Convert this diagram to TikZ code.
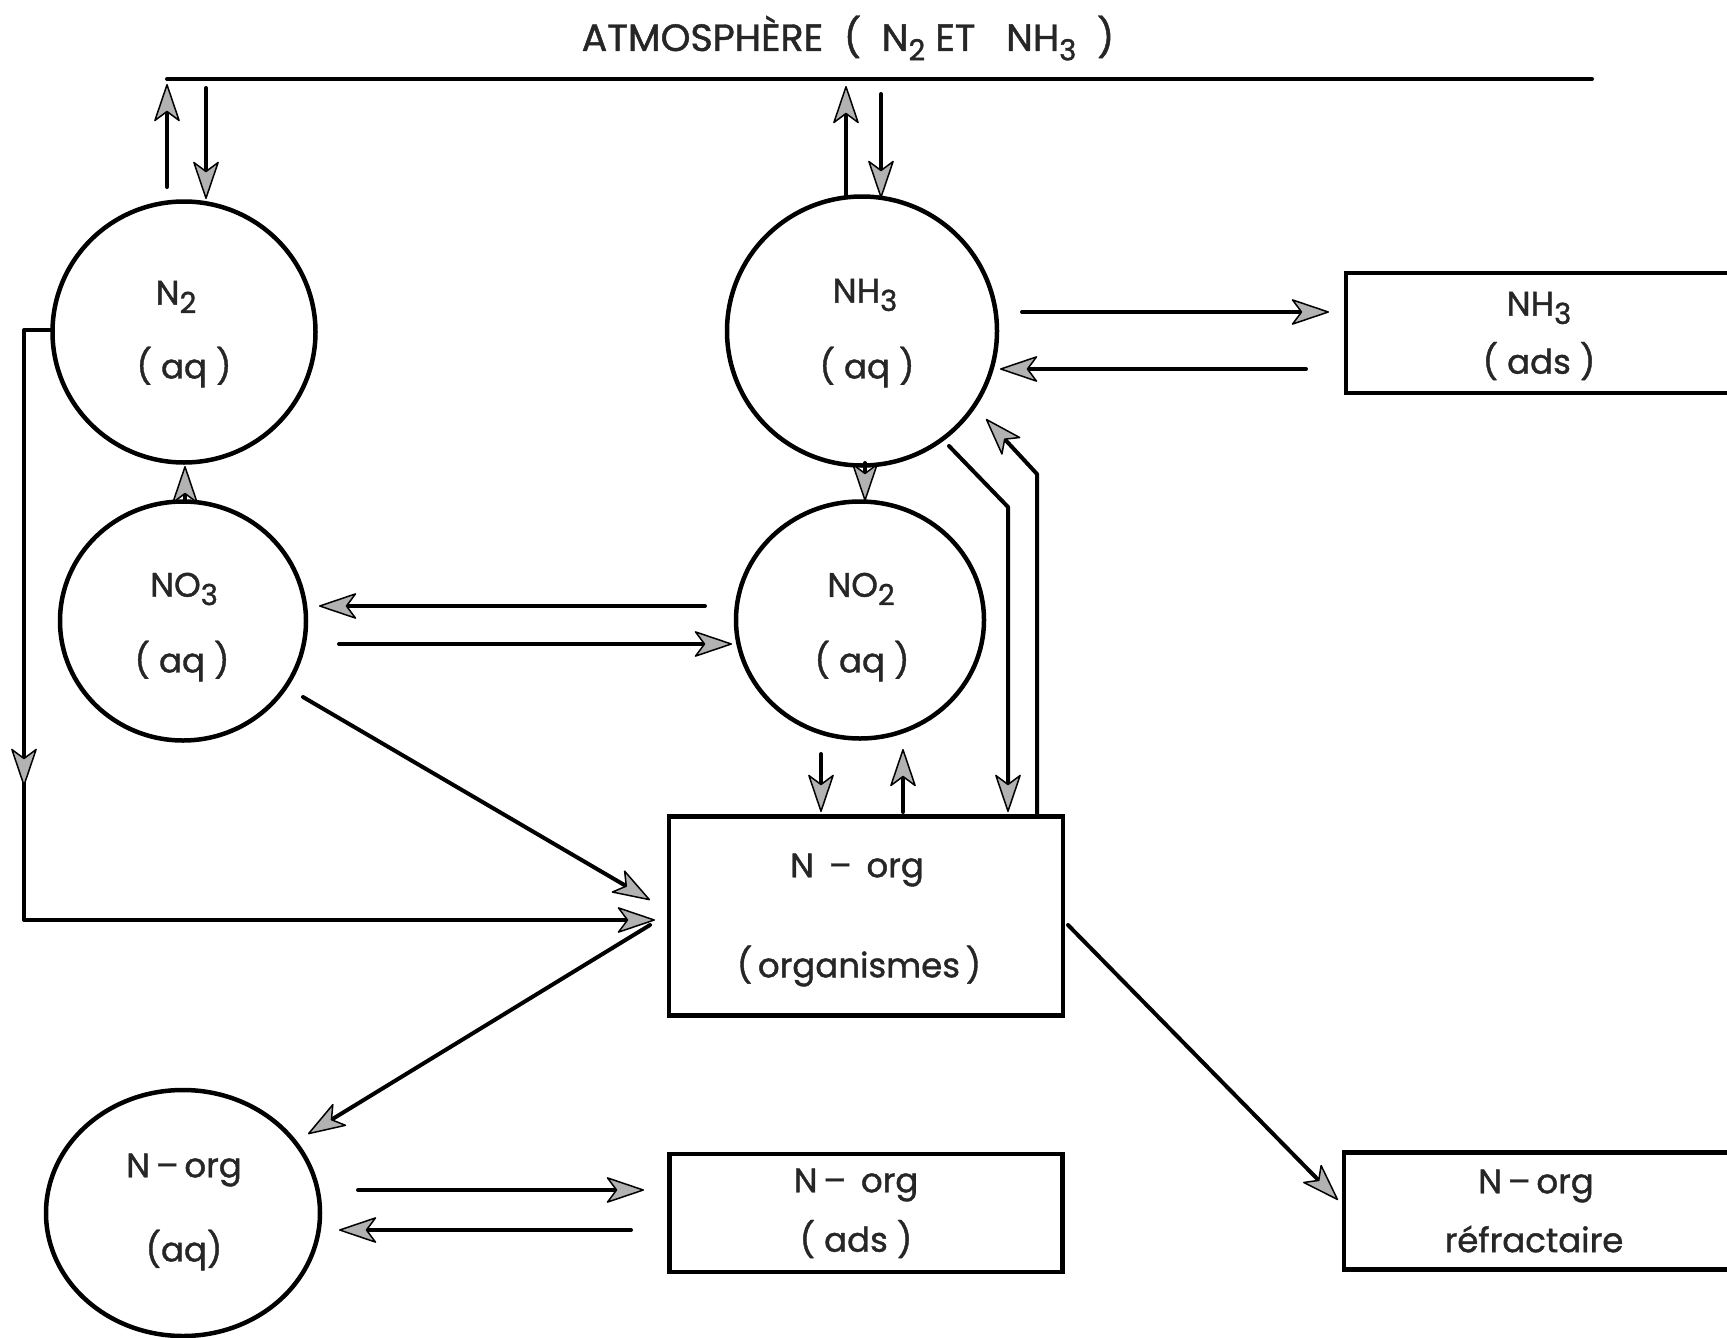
\documentclass[tikz,border=0pt]{standalone}
\usepackage{fontspec}
\setmainfont{Poppins}[FakeBold=1.2]
\usetikzlibrary{arrows.meta,shapes.geometric,decorations.markings}
\newcommand{\sbs}[1]{\raisebox{-0.45ex}{\fontsize{29}{30}\selectfont #1}}
\begin{document}
\begin{tikzpicture}[x=1pt,y=-1pt,
  ln/.style={line width=4pt, line cap=round, line join=round},
  tipk/.tip={Stealth[length=40pt,width=27pt,inset=10pt,fill=gray!60,line width=1.5pt,round]},
  arr/.style={ln, -tipk},
  circ/.style={ellipse, draw, line width=4.5pt, inner sep=0pt},
  boxn/.style={rectangle, draw, line width=4.5pt, inner sep=0pt},
  txt/.style={font=\fontsize{34}{40}\selectfont, inner sep=0pt, text=black!85},
  ttl/.style={font=\fontsize{38}{44}\selectfont, inner sep=0pt, text=black!85}
]
\useasboundingbox (0,0) rectangle (1727,1338);

% title
\node[ttl] (title) at (848,38) {ATMOSPHÈRE \;(\; N\sbs{2} ET \; NH\sbs{3} \;)};
\coordinate (atmL) at (167,79);
\coordinate (atmR) at (1592,79);
\draw[ln] (atmL) -- (atmR);

% circles
\node[circ, minimum width=263pt, minimum height=261pt] (n2)  at (184,332) {};
\node[circ, minimum width=246pt, minimum height=239pt] (no3) at (183,621) {};
\node[circ, minimum width=270pt, minimum height=269pt] (nh3) at (862,331) {};
\node[circ, minimum width=248pt, minimum height=237pt] (no2) at (860,620) {};
\node[circ, minimum width=274pt, minimum height=246pt] (naq) at (183,1213) {};

% boxes
\node[boxn, minimum width=394pt, minimum height=199pt] (norg) at (866,916) {};
\node[boxn, minimum width=386pt, minimum height=120pt] (nh3ads) at (1539,333) {};
\node[boxn, minimum width=393pt, minimum height=118pt] (nads) at (866,1213) {};
\node[boxn, minimum width=388pt, minimum height=117pt] (nref) at (1538,1211) {};

% texts
\node[txt] (t1) at (176,297) {N\sbs{2}};
\node[txt] (t2) at (184,367) {( aq )};
\node[txt] (t3) at (184,589) {NO\sbs{3}};
\node[txt] (t4) at (182,661) {( aq )};
\node[txt] (t5) at (865,295) {NH\sbs{3}};
\node[txt] (t6) at (867,367) {( aq )};
\node[txt] (t7) at (861,589) {NO\sbs{2}};
\node[txt] (t8) at (862,661) {( aq )};
\node[txt] (t9) at (184,1170) {N\,–\,org};
\node[txt] (t10) at (184,1250) {(aq)};
\node[txt] (t11) at (857,870) {N \,–\, org};
\node[txt] (t12) at (859,966) {(\,organismes\,)};
\node[txt] (t13) at (1539,308) {NH\sbs{3}};
\node[txt] (t14) at (1539,361) {( ads )};
\node[txt] (t15) at (856,1185) {N\,– \,org};
\node[txt] (t16) at (856,1239) {( ads )};
\node[txt] (t17) at (1536,1186) {N\,–\,org};
\node[txt] (t18) at (1534,1239) {réfractaire};

% connector end points
\coordinate (a1s) at (167,187); \coordinate (a1e) at (167,84);
\coordinate (a2s) at (206,88);  \coordinate (a2e) at (206,199);
\coordinate (a3s) at (846,196); \coordinate (a3e) at (846,86);
\coordinate (a4s) at (881,94);  \coordinate (a4e) at (881,198);
\coordinate (a5s) at (1022,312); \coordinate (a5e) at (1329,312);
\coordinate (a6s) at (1306,369); \coordinate (a6e) at (1000,369);
\coordinate (a7s) at (865,463); \coordinate (a7e) at (865,501);
\coordinate (a8s) at (185,501); \coordinate (a8e) at (185,466);
\coordinate (a9s) at (705,606); \coordinate (a9e) at (319,606);
\coordinate (a10s) at (339,644); \coordinate (a10e) at (732,644);
\coordinate (a11s) at (303,697); \coordinate (a11e) at (650,900);
\coordinate (a12s) at (53,330); \coordinate (a12a) at (24,330); \coordinate (a12b) at (24,920); \coordinate (a12e) at (655,920);
\coordinate (a13s) at (821,754); \coordinate (a13e) at (821,812);
\coordinate (a14s) at (903,812); \coordinate (a14e) at (903,749);
\coordinate (a15s) at (949,446); \coordinate (a15a) at (1008,507); \coordinate (a15e) at (1008,812);
\coordinate (a16s) at (1037,815); \coordinate (a16a) at (1037,474); \coordinate (a16e) at (986,419);
\coordinate (a17s) at (650,925); \coordinate (a17e) at (308,1134);
\coordinate (a18s) at (1068,925); \coordinate (a18e) at (1338,1200);
\coordinate (a19s) at (358,1190); \coordinate (a19e) at (644,1190);
\coordinate (a20s) at (631,1230); \coordinate (a20e) at (339,1230);

\draw[arr] (a1s) -- (a1e);
\draw[arr] (a2s) -- (a2e);
\draw[arr] (a3s) -- (a3e);
\draw[arr] (a4s) -- (a4e);
\draw[arr] (a5s) -- (a5e);
\draw[arr] (a6s) -- (a6e);
\draw[arr] (a7s) -- (a7e);
\draw[arr] (a8s) -- (a8e);
\draw[arr] (a9s) -- (a9e);
\draw[arr] (a10s) -- (a10e);
\draw[arr] (a11s) -- (a11e);
\draw[arr, postaction={decorate}, decoration={markings, mark=at position 485pt with {\arrow{tipk}}}] (a12s) -- (a12a) -- (a12b) -- (a12e);
\draw[arr] (a13s) -- (a13e);
\draw[arr] (a14s) -- (a14e);
\draw[arr] (a15s) -- (a15a) -- (a15e);
\draw[arr] (a16s) -- (a16a) -- (a16e);
\draw[arr] (a17s) -- (a17e);
\draw[arr] (a18s) -- (a18e);
\draw[arr] (a19s) -- (a19e);
\draw[arr] (a20s) -- (a20e);
\end{tikzpicture}
\end{document}
